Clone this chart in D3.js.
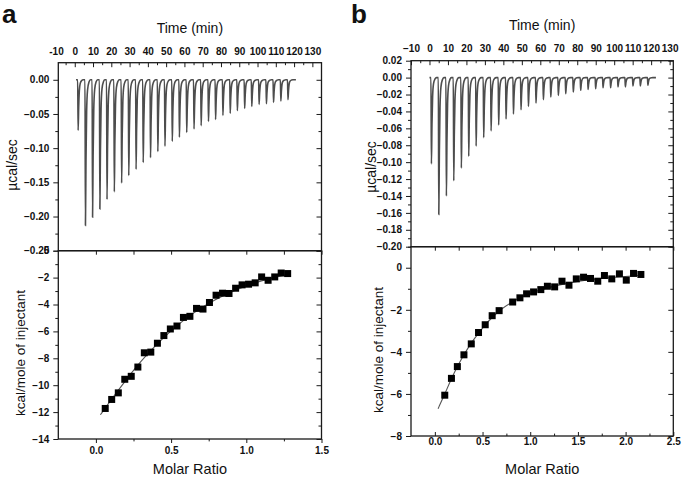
<!DOCTYPE html>
<html><head><meta charset="utf-8">
<script src="https://cdn.jsdelivr.net/npm/d3@7/dist/d3.min.js"></script>
<style>
body{margin:0;background:#fff}
svg{display:block}
text{font-family:Arial,"Liberation Sans",sans-serif;fill:#111}
</style></head>
<body><svg id="c" width="685" height="480"></svg>
<script>
// ---------- DATA ----------
const timeTicks = [-10,0,10,20,30,40,50,60,70,80,90,100,110,120,130];

// Panel a: raw thermogram (injection time, min; peak depth, µcal/sec)
const injTimesA = [1.6,5.6,9.5,13.5,17.4,21.4,25.4,29.3,33.3,37.2,41.2,45.2,49.1,53.1,57.0,61.0,65.0,68.9,72.9,76.8,80.8,84.8,88.7,92.7,96.6,100.6,104.6,108.5,112.5,116.4];
const peaksA = [-0.074,-0.213,-0.201,-0.189,-0.175,-0.164,-0.151,-0.140,-0.131,-0.121,-0.114,-0.105,-0.097,-0.090,-0.084,-0.077,-0.072,-0.067,-0.061,-0.058,-0.052,-0.049,-0.045,-0.042,-0.039,-0.036,-0.035,-0.033,-0.031,-0.029];
const baselineA = [0.7, 121];
const pTicksA = [0.00,-0.05,-0.10,-0.15,-0.20,-0.25];
const pMinorA = [-0.025,-0.075,-0.125,-0.175,-0.225];

// Panel a: integrated heats
const ratioA = [0.062,0.105,0.149,0.192,0.235,0.279,0.322,0.365,0.409,0.452,0.495,0.539,0.582,0.625,0.669,0.712,0.755,0.799,0.842,0.885,0.929,0.972,1.015,1.059,1.102,1.145,1.189,1.232,1.275];
const heatA = [-11.73,-11.06,-10.57,-9.56,-9.34,-8.65,-7.59,-7.54,-6.88,-6.31,-5.82,-5.60,-4.96,-4.88,-4.29,-4.34,-3.85,-3.31,-3.16,-3.18,-2.79,-2.54,-2.49,-2.39,-1.95,-2.20,-1.95,-1.66,-1.70];
const fitRatioA = [0.03,0.1,0.2,0.3,0.4,0.5,0.6,0.7,0.8,0.9,1.0,1.1,1.2,1.28];
const fitHeatA = [-12.2,-11.1,-9.6,-8.2,-7.0,-5.95,-5.0,-4.25,-3.6,-3.05,-2.6,-2.25,-1.95,-1.75];
const hTicksA = [-14,-12,-10,-8,-6,-4,-2,0];
const rTicksA = [0.0,0.5,1.0,1.5];

// Panel b: raw thermogram
const injTimesB = [0.8,4.8,8.9,12.9,17.0,21.0,25.0,29.1,33.1,37.2,41.2,45.2,49.3,53.3,57.4,61.4,65.4,69.5,73.5,77.6,81.6,85.6,89.7,93.7,97.8,101.8,105.8,109.9,113.9,118.0];
const peaksB = [-0.102,-0.162,-0.140,-0.122,-0.107,-0.093,-0.081,-0.071,-0.063,-0.056,-0.049,-0.043,-0.038,-0.034,-0.030,-0.026,-0.023,-0.021,-0.019,-0.017,-0.015,-0.014,-0.013,-0.012,-0.012,-0.011,-0.011,-0.010,-0.010,-0.009];
const baselineB = [0, 122.6];
const pTicksB = [0.02,0.00,-0.02,-0.04,-0.06,-0.08,-0.10,-0.12,-0.14,-0.16,-0.18,-0.20];
const pMinorB = [0.01,-0.01,-0.03,-0.05,-0.07,-0.09,-0.11,-0.13,-0.15,-0.17,-0.19];

// Panel b: integrated heats
const ratioB = [0.104,0.174,0.236,0.305,0.382,0.458,0.528,0.601,0.674,0.816,0.892,0.962,1.035,1.111,1.180,1.256,1.333,1.406,1.483,1.559,1.632,1.708,1.778,1.855,1.935,2.007,2.083,2.160];
const heatB = [-6.06,-5.26,-4.70,-4.14,-3.62,-3.08,-2.71,-2.28,-2.04,-1.63,-1.43,-1.24,-1.15,-1.04,-0.88,-0.91,-0.64,-0.83,-0.53,-0.45,-0.51,-0.64,-0.37,-0.53,-0.29,-0.59,-0.27,-0.32];
const fitRatioB = [0.034,0.1,0.2,0.3,0.4,0.5,0.6,0.7,0.8,0.9,1.0,1.2,1.4,1.6,1.8,2.0,2.17];
const fitHeatB = [-6.7,-6.05,-5.0,-4.15,-3.45,-2.85,-2.35,-1.95,-1.65,-1.4,-1.2,-0.92,-0.72,-0.58,-0.48,-0.41,-0.36];
const hTicksB = [-8,-6,-4,-2,0];
const rTicksB = [0.0,0.5,1.0,1.5,2.0,2.5];

// peak shape template (minutes after injection, fraction of depth) — drawing style only
const shapeDt = [0.25,0.55,0.9,1.4,2.2,3.0];
const shapeFr = [1,0.55,0.22,0.07,0.015,0];

// ---------- DRAW ----------
const svg = d3.select("#c");
const INK = "#1a1a1a";

function styleAxis(sel){
  sel.select(".domain").remove();
  sel.selectAll(".tick line").attr("stroke",INK).attr("stroke-width",1);
}

function panel(o){
  const g = svg.append("g");
  const t  = d3.scaleLinear().domain(o.tDomain).range([o.x0,o.x1]);
  const yT = d3.scaleLinear().domain(o.pDomain).range([o.yMid,o.yTop]);
  const x  = d3.scaleLinear().domain(o.rDomain).range([o.x0,o.x1]);
  const yB = d3.scaleLinear().domain(o.hDomain).range([o.yBot,o.yMid]);

  // thermogram trace
  const pts = [[o.base[0],0]];
  o.inj.forEach((ti,i)=>{
    pts.push([ti,0]);
    shapeDt.forEach((dt,k)=>{ if(i<o.inj.length-1 && ti+dt>=o.inj[i+1]) return; pts.push([ti+dt,o.peaks[i]*shapeFr[k]]); });
  });
  pts.push([o.base[1],0]);
  g.append("path").datum(pts)
    .attr("d",d3.line().x(d=>t(d[0])).y(d=>yT(d[1])).curve(d3.curveMonotoneX))
    .attr("fill","none").attr("stroke","#4d4d4d").attr("stroke-width",1.6);

  // fit curve
  g.append("path").datum(o.fitR.map((r,i)=>[r,o.fitH[i]]))
    .attr("d",d3.line().x(d=>x(d[0])).y(d=>yB(d[1])).curve(d3.curveBasis))
    .attr("fill","none").attr("stroke","#555").attr("stroke-width",1.1);
  // squares
  const s=7;
  g.selectAll("rect.pt").data(o.ratio.map((r,i)=>[r,o.heat[i]])).enter().append("rect")
    .attr("x",d=>x(d[0])-s/2).attr("y",d=>yB(d[1])-s/2).attr("width",s).attr("height",s)
    .attr("fill","#000");

  // frames
  g.append("rect").attr("x",o.x0).attr("y",o.yTop).attr("width",o.x1-o.x0).attr("height",o.yMid-o.yTop)
    .attr("fill","none").attr("stroke",INK).attr("stroke-width",1.3);
  g.append("rect").attr("x",o.x0).attr("y",o.yMid).attr("width",o.x1-o.x0).attr("height",o.yBot-o.yMid)
    .attr("fill","none").attr("stroke",INK).attr("stroke-width",1.3);

  const fmt2 = d3.format(".2f");
  const lbl = sel=>sel.selectAll("text").attr("fill","#111").style("font-size","10px").style("font-weight","bold").style("font-family","Arial, 'Liberation Sans', sans-serif");

  // top time axis
  const minorT = d3.range(-5, o.tDomain[1], 10).filter(v=>v>=o.tDomain[0]&&v<=o.tDomain[1]);
  g.append("g").attr("transform",`translate(0,${o.yTop})`)
    .call(d3.axisTop(t).tickValues(minorT).tickSize(-2.5).tickFormat(""))
    .call(styleAxis);
  g.append("g").attr("transform",`translate(0,${o.yTop})`)
    .call(d3.axisTop(t).tickValues(timeTicks.filter(v=>v>=o.tDomain[0])).tickSize(-4.5).tickPadding(o.topPad).tickFormat(d3.format("d")))
    .call(styleAxis).call(lbl);
  // labels for ticks just outside the time domain (e.g. -10)
  timeTicks.filter(v=>v<o.tDomain[0]).forEach(v=>{
    g.append("text").attr("x",t(v)).attr("y",o.yTop-o.topPad).attr("text-anchor","middle")
      .style("font-size","10px").style("font-weight","bold").text(v);
  });

  // left power axis
  g.append("g").attr("transform",`translate(${o.x0},0)`)
    .call(d3.axisLeft(yT).tickValues(o.pMinor).tickSize(3).tickFormat("")).call(styleAxis);
  g.append("g").attr("transform",`translate(${o.x0},0)`)
    .call(d3.axisLeft(yT).tickValues(o.pTicks).tickSize(5).tickPadding(4).tickFormat(fmt2)).call(styleAxis).call(lbl);
  g.append("g").attr("transform",`translate(${o.x1},0)`)
    .call(d3.axisRight(yT).tickValues(o.pTicks).tickSize(-5).tickFormat("")).call(styleAxis);
  g.append("g").attr("transform",`translate(${o.x1},0)`)
    .call(d3.axisRight(yT).tickValues(o.pMinor).tickSize(-3).tickFormat("")).call(styleAxis);

  // bottom panel axes
  const rMinor = d3.range(0,o.rDomain[1]+0.001,0.25).filter(v=>Math.abs(v*2-Math.round(v*2))>0.01);
  g.append("g").attr("transform",`translate(0,${o.yMid})`)
    .call(d3.axisTop(x).tickValues(o.rTicks.concat(rMinor)).tickSize(-4).tickFormat("")).call(styleAxis);
  g.append("g").attr("transform",`translate(0,${o.yBot})`)
    .call(d3.axisBottom(x).tickValues(rMinor).tickSize(o.botTick*0.6).tickFormat("")).call(styleAxis);
  g.append("g").attr("transform",`translate(0,${o.yBot})`)
    .call(d3.axisBottom(x).tickValues(o.rTicks).tickSize(o.botTick).tickPadding(o.botPad).tickFormat(d3.format(".1f"))).call(styleAxis).call(lbl);

  const hMinor = d3.range(o.hDomain[0]+1,o.hDomain[1]+0.01,2);
  g.append("g").attr("transform",`translate(${o.x0},0)`)
    .call(d3.axisLeft(yB).tickValues(hMinor).tickSize(3).tickFormat("")).call(styleAxis);
  g.append("g").attr("transform",`translate(${o.x0},0)`)
    .call(d3.axisLeft(yB).tickValues(o.hTicks).tickSize(5).tickPadding(4).tickFormat(d3.format("d"))).call(styleAxis).call(lbl);
  g.append("g").attr("transform",`translate(${o.x1},0)`)
    .call(d3.axisRight(yB).tickValues(o.hTicks).tickSize(-5).tickFormat("")).call(styleAxis);
  g.append("g").attr("transform",`translate(${o.x1},0)`)
    .call(d3.axisRight(yB).tickValues(hMinor).tickSize(-3).tickFormat("")).call(styleAxis);

  // titles
  const cx = (o.x0+o.x1)/2;
  g.append("text").attr("x",cx).attr("y",o.timeTitleY).attr("text-anchor","middle").style("font-size","14px").text("Time (min)");
  g.append("text").attr("x",cx).attr("y",474).attr("text-anchor","middle").style("font-size","14.5px").text("Molar Ratio");
  g.append("text").attr("transform",`translate(${o.yt1x},${o.yt1y}) rotate(-90)`).attr("text-anchor","middle").style("font-size","14px").text("µcal/sec");
  g.append("text").attr("transform",`translate(${o.yt2x},${o.yt2y}) rotate(-90)`).attr("text-anchor","middle").style("font-size","13.5px").text("kcal/mole of injectant");
  g.append("text").attr("x",o.letterX).attr("y",23).style("font-size","26px").style("font-weight","bold").text(o.letter);
}

panel({
  letter:"a", letterX:2,
  x0:58.3, x1:321.5, yTop:62.7, yMid:250.7, yBot:439,
  tDomain:[-9,135], pDomain:[-0.25,0.025], rDomain:[-0.25,1.5], hDomain:[-14,0],
  inj:injTimesA, peaks:peaksA, base:baselineA,
  ratio:ratioA, heat:heatA, fitR:fitRatioA, fitH:fitHeatA,
  pTicks:pTicksA, pMinor:pMinorA,
  hTicks:hTicksA, rTicks:rTicksA,
  topPad:8, botTick:4, botPad:4,
  timeTitleY:33, yt1x:17, yt1y:165, yt2x:25, yt2y:353
});
panel({
  letter:"b", letterX:351,
  x0:411, x1:673.3, yTop:60.7, yMid:246.7, yBot:436,
  tDomain:[-10,132], pDomain:[-0.20,0.02], rDomain:[-0.25,2.5], hDomain:[-8,1],
  inj:injTimesB, peaks:peaksB, base:baselineB,
  ratio:ratioB, heat:heatB, fitR:fitRatioB, fitH:fitHeatB,
  pTicks:pTicksB, pMinor:pMinorB,
  hTicks:hTicksB, rTicks:rTicksB,
  topPad:9, botTick:-4, botPad:2,
  timeTitleY:30, yt1x:376, yt1y:167, yt2x:383, yt2y:350
});
</script>
</body></html>
